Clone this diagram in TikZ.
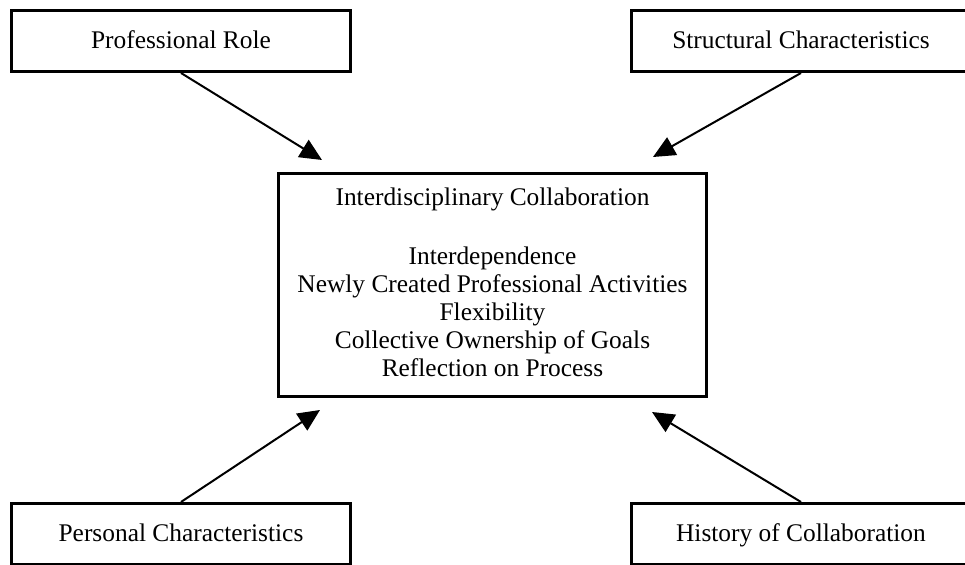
\documentclass[tikz,border=0pt]{standalone}
\usepackage{fontspec}
\setmainfont{Liberation Serif}
\usetikzlibrary{arrows.meta}
\tikzset{%
	>={Triangle[width=10pt,length=11pt]},
	% Specifications for style of nodes:
	base/.style = {rectangle, draw=black, line width=1.6pt, inner sep=0pt,
		text centered, font=\fontsize{12.7}{14}\selectfont},
	factor/.style = {base, minimum width=169.5pt, minimum height=30.4pt,
		text height=10pt, text depth=2pt},
	collab/.style = {base, minimum width=213.9pt, minimum height=111.4pt, align=center},
	link/.style = {->, line width=1pt, color=black},
}
\begin{document}
\begin{tikzpicture}[x=0.5pt, y=-0.5pt]
		\useasboundingbox (0,0) rectangle (965,565);
		\clip (0,0) rectangle (965,565);
		
		% Specification of nodes (position, etc.)
		\node (interCollab) [collab] at (492.5,285)
		{Interdisciplinary Collaboration\\[15.5pt]
			Interdependence\\
			Newly Created Professional Activities\\
			Flexibility\\
			Collective Ownership of Goals\\
			Reflection on Process\\[-11pt]};
		
		\node (profRole)   [factor] at (181,41)  {Professional Role};
		\node (structChar) [factor] at (801,41)  {Structural Characteristics};
		\node (persChar)   [factor] at (181,534) {Personal Characteristics};
		\node (histCollab) [factor] at (801,534) {History of Collaboration};
		
		% arrow tips stop short of the box
		\coordinate (tipNW) at ([xshift=22.5pt,yshift=6pt]interCollab.north west);
		\coordinate (tipNE) at ([xshift=-27.5pt,yshift=7.5pt]interCollab.north east);
		\coordinate (tipSW) at ([xshift=21.5pt,yshift=-6pt]interCollab.south west);
		\coordinate (tipSE) at ([xshift=-28pt,yshift=-7pt]interCollab.south east);
		
		\draw [link] (profRole.south)   -- (tipNW);
		\draw [link] (structChar.south) -- (tipNE);
		\draw [link] (persChar.north)   -- (tipSW);
		\draw [link] (histCollab.north) -- (tipSE);
		
\end{tikzpicture}
\end{document}
